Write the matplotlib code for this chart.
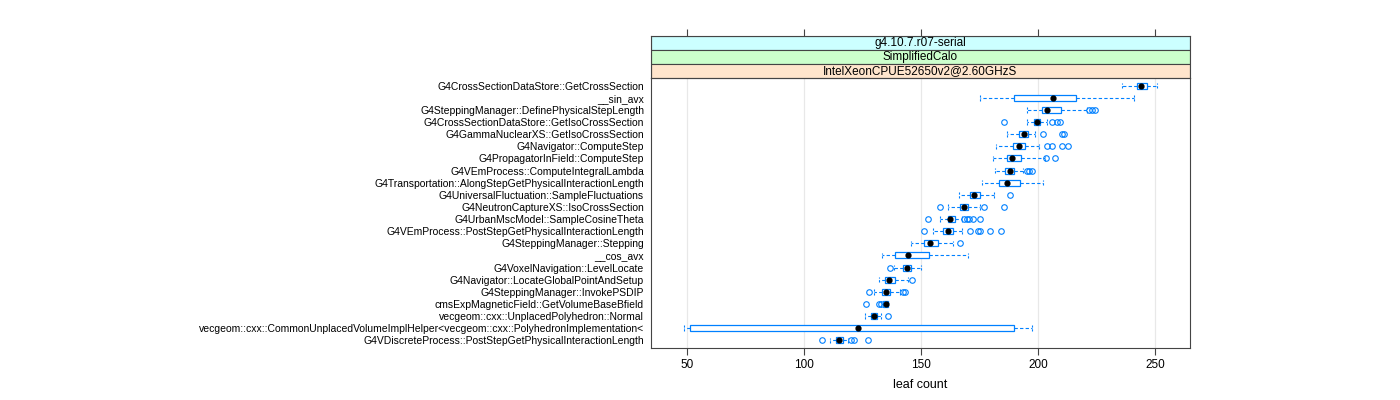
import matplotlib

matplotlib.use("Agg")
import matplotlib.pyplot as plt
from matplotlib.patches import Rectangle

plt.rcParams["font.family"] = ["Liberation Sans", "DejaVu Sans"]

# functions, top to bottom as in the reference
functions = [
    "G4CrossSectionDataStore::GetCrossSection",
    "__sin_avx",
    "G4SteppingManager::DefinePhysicalStepLength",
    "G4CrossSectionDataStore::GetIsoCrossSection",
    "G4GammaNuclearXS::GetIsoCrossSection",
    "G4Navigator::ComputeStep",
    "G4PropagatorInField::ComputeStep",
    "G4VEmProcess::ComputeIntegralLambda",
    "G4Transportation::AlongStepGetPhysicalInteractionLength",
    "G4UniversalFluctuation::SampleFluctuations",
    "G4NeutronCaptureXS::IsoCrossSection",
    "G4UrbanMscModel::SampleCosineTheta",
    "G4VEmProcess::PostStepGetPhysicalInteractionLength",
    "G4SteppingManager::Stepping",
    "__cos_avx",
    "G4VoxelNavigation::LevelLocate",
    "G4Navigator::LocateGlobalPointAndSetup",
    "G4SteppingManager::InvokePSDIP",
    "cmsExpMagneticField::GetVolumeBaseBfield",
    "vecgeom::cxx::UnplacedPolyhedron::Normal",
    "vecgeom::cxx::CommonUnplacedVolumeImplHelper<vecgeom::cxx::PolyhedronImplementation<",
    "G4VDiscreteProcess::PostStepGetPhysicalInteractionLength",
]
whisker_lo = [236.0, 175.0, 195.2, 195.1, 186.9, 181.8, 180.7, 181.5, 176.0, 166.1, 161.6,
              157.9, 155.2, 145.5, 133.3, 138.5, 131.8, 129.6, 133.0, 125.9, 48.5, 111.0]
q1 = [242.3, 189.6, 201.5, 198.1, 191.7, 189.4, 186.9, 185.7, 183.2, 170.8, 166.5,
      161.3, 159.4, 151.2, 139.0, 142.3, 134.5, 133.3, 133.6, 128.4, 51.0, 113.7]
median = [244.2, 206.4, 204.0, 199.6, 193.9, 191.8, 188.8, 187.8, 186.9, 172.5, 168.5,
          162.5, 161.6, 153.9, 144.2, 143.9, 136.3, 135.0, 134.9, 129.6, 122.9, 114.7]
q3 = [246.4, 216.4, 209.7, 201.0, 195.5, 194.3, 192.9, 189.6, 192.1, 175.0, 170.2,
      164.3, 163.8, 157.1, 153.4, 145.5, 139.0, 136.6, 135.7, 131.1, 189.9, 116.4]
whisker_hi = [250.9, 241.2, 220.8, 204.0, 198.8, 200.3, 203.0, 193.6, 202.1, 181.0, 175.0,
              167.6, 167.3, 163.8, 170.2, 150.1, 144.5, 140.8, 136.0, 133.0, 197.3, 118.5]
outliers = [
    [],
    [],
    [222.0, 223.0, 224.5],
    [185.4, 205.8, 208.0, 209.5],
    [202.2, 210.4, 211.0],
    [203.7, 205.8, 210.4, 212.6],
    [203.3, 207.3],
    [195.1, 196.1, 197.3],
    [],
    [188.1],
    [157.9, 176.9, 185.6],
    [153.0, 168.3, 169.8, 170.5, 172.0, 175.0],
    [151.2, 170.8, 174.3, 175.0, 179.5, 184.2],
    [166.7],
    [],
    [136.8],
    [146.0],
    [127.8, 142.0, 143.0],
    [126.2, 131.8, 132.6],
    [135.9],
    [],
    [107.6, 120.0, 121.4, 127.4],
]
strip_labels = ["g4.10.7.r07-serial", "SimplifiedCalo", "IntelXeonCPUE52650v2@2.60GHzS"]
strip_colors = ["#ccffff", "#ccffcc", "#ffe5cc"]

BLUE = "#0080ff"
AXIS = "#444444"
XLIM = (34.4, 265.0)
n = len(functions)

fig = plt.figure(figsize=(14, 4), dpi=100)
ax = fig.add_axes([0.465, 0.131, 0.385, 0.673])

stats = []
for i in range(n):
    stats.append({
        "whislo": whisker_lo[i], "q1": q1[i], "med": median[i],
        "q3": q3[i], "whishi": whisker_hi[i], "fliers": outliers[i],
    })
positions = list(range(n, 0, -1))

ax.bxp(
    stats,
    positions=positions,
    orientation="horizontal",
    widths=0.5,
    capwidths=0.45,
    patch_artist=True,
    boxprops={"facecolor": "white", "edgecolor": BLUE, "linewidth": 0.9},
    whiskerprops={"color": BLUE, "linestyle": (0, (3, 2)), "linewidth": 0.8},
    capprops={"color": BLUE, "linestyle": (0, (2, 1.5)), "linewidth": 0.8},
    medianprops={"visible": False},
    flierprops={"marker": "o", "markerfacecolor": "none", "markeredgecolor": BLUE,
                "markersize": 4.0, "markeredgewidth": 0.8},
    zorder=3,
)
ax.scatter(median, positions, s=12, color="black", zorder=5)

ticks = [50, 100, 150, 200, 250]
for t in ticks:
    ax.axvline(t, color="#e8e8e8", linewidth=0.9, zorder=0)

ax.set_xlim(*XLIM)
ax.set_ylim(0.4, n + 0.6)
ax.set_xticks(ticks)
ax.set_xticklabels([str(t) for t in ticks], fontsize=8.5)
ax.set_yticks(positions)
ax.set_yticklabels(functions, fontsize=7.45)
ax.tick_params(axis="y", length=0, pad=5)
ax.tick_params(axis="x", direction="out", length=5, color=AXIS, pad=3)
ax.set_xlabel("leaf count", fontsize=9, labelpad=6)
for sp in ax.spines.values():
    sp.set_color(AXIS)
    sp.set_linewidth(0.8)

# strips on top of the panel
sax = fig.add_axes([0.465, 0.804, 0.385, 0.106])
sax.set_xlim(*XLIM)
sax.set_ylim(0, 3)
for k, (label, col) in enumerate(zip(strip_labels, strip_colors)):
    y0 = 2 - k
    sax.add_patch(Rectangle((XLIM[0], y0), XLIM[1] - XLIM[0], 1, facecolor=col,
                            edgecolor=AXIS, linewidth=0.8))
    sax.text(sum(XLIM) / 2, y0 + 0.5, label, ha="center", va="center", fontsize=8.5)
sax.set_yticks([])
sax.set_xticks(ticks)
sax.tick_params(axis="x", bottom=False, labelbottom=False, top=True, labeltop=False,
                direction="out", length=5, color=AXIS)
for sp in sax.spines.values():
    sp.set_color(AXIS)
    sp.set_linewidth(0.8)

fig.savefig("out.png", dpi=100)
